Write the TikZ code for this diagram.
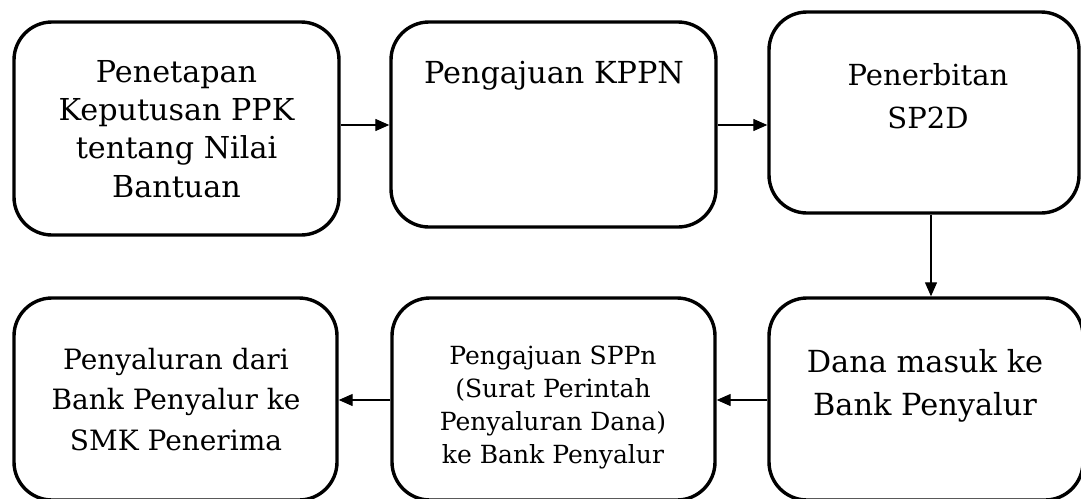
\documentclass[tikz,border=0pt]{standalone}
\usepackage{fontspec}
\setmainfont{DejaVu Serif}
\usetikzlibrary{arrows.meta}
\newcommand{\fs}[2]{\fontsize{#1}{#2}\selectfont}
\begin{document}
\begin{tikzpicture}[x=1pt,y=-1pt,
  stepbox/.style={draw, line width=3.4pt, rounded corners=38pt, inner sep=0pt, rectangle},
  flow/.style={line width=1.3pt, -{Triangle[length=14pt,width=12pt]}},
  txt/.style={align=center, inner sep=0pt, anchor=base}]
\useasboundingbox (0,0) rectangle (1081,498);
\clip (0,0) rectangle (1081,498);
% process boxes
\node[stepbox, minimum width=325pt, minimum height=213pt] (b1) at (176.5,128.5) {};
\node[stepbox, minimum width=325pt, minimum height=205pt] (b2) at (553.5,124.5) {};
\node[stepbox, minimum width=310pt, minimum height=201pt] (b3) at (924,112.5) {};
\node[stepbox, minimum width=323pt, minimum height=202pt] (b4) at (175.5,399) {};
\node[stepbox, minimum width=323pt, minimum height=202pt] (b5) at (553.5,399) {};
\node[stepbox, minimum width=314pt, minimum height=202pt] (b6) at (926,399) {};
% box labels (anchored at the baseline of the last line)
\node[txt, font=\fs{30.2}{38.3}] (t1) at (176.5,197) {Penetapan\\Keputusan PPK\\tentang Nilai\\Bantuan};
\node[txt, font=\fs{30.3}{43}] (t2) at (554,83) {Pengajuan KPPN};
\node[txt, font=\fs{29}{43}] (t3) at (928,128) {Penerbitan\\SP2D};
\node[txt, font=\fs{28}{40.5}] (t4) at (176,450) {Penyaluran dari\\Bank Penyalur ke\\SMK Penerima};
\node[txt, font=\fs{25}{32.7}] (t5) at (553,463) {Pengajuan SPPn\\(Surat Perintah\\Penyaluran Dana)\\ke Bank Penyalur};
\node[txt, font=\fs{30.4}{43}] (t6) at (925,415) {Dana masuk ke\\Bank Penyalur};
% connectors
\coordinate (r1) at (0,125);
\coordinate (r2) at (0,400);
\coordinate (c1) at (931,0);
\draw[flow] (b1.east |- r1) -- (b2.west |- r1);
\draw[flow] (b2.east |- r1) -- (b3.west |- r1);
\draw[flow] (b3.south -| c1) -- (b6.north -| c1);
\draw[flow] (b6.west |- r2) -- (b5.east |- r2);
\draw[flow] (b5.west |- r2) -- (b4.east |- r2);
\end{tikzpicture}
\end{document}
